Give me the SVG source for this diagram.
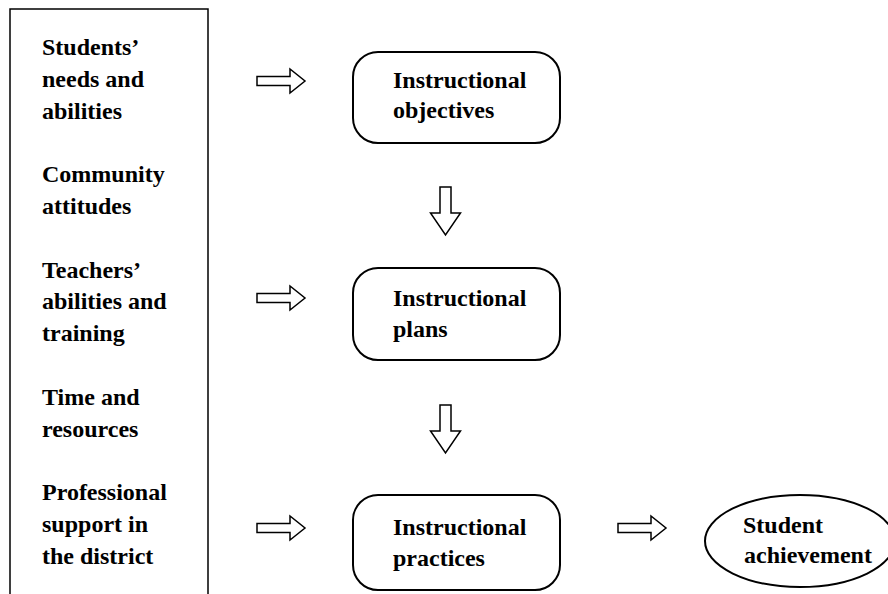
<svg xmlns="http://www.w3.org/2000/svg" xmlns:xlink="http://www.w3.org/1999/xlink" width="888" height="594" viewBox="0 0 888 594">
  <style>
    .t { font-family: "Liberation Serif", "Times New Roman", serif; font-weight: bold; font-size: 24px; fill: #000; }
    .box { fill: #fff; stroke: #000; stroke-width: 2; }
    .arr { fill: #fff; stroke: #000; stroke-width: 1.5; stroke-linejoin: miter; }
    .frame { fill: none; stroke: #000; stroke-width: 1.5; }
  </style>
  <defs>
    <path id="ra" d="M0,-4.5 H33 V-12 L48,0 L33,12 V4.5 H0 Z"/>
    <path id="da" d="M-5.5,0 V26 H-15 L0,48 L15,26 H5.5 V0 Z"/>
  </defs>
  <rect width="888" height="594" fill="#fff"/>

  <g id="factors">
    <path class="frame" d="M10,594 V9 H208 V594"/>
    <g id="f-students">
      <text class="t" x="42" y="55">Students’</text>
      <text class="t" x="42" y="86.8">needs and</text>
      <text class="t" x="42" y="118.6">abilities</text>
    </g>
    <g id="f-community">
      <text class="t" x="42" y="182.2">Community</text>
      <text class="t" x="42" y="214">attitudes</text>
    </g>
    <g id="f-teachers">
      <text class="t" x="42" y="277.6">Teachers’</text>
      <text class="t" x="42" y="309.4">abilities and</text>
      <text class="t" x="42" y="341.2">training</text>
    </g>
    <g id="f-time">
      <text class="t" x="42" y="404.8">Time and</text>
      <text class="t" x="42" y="436.6">resources</text>
    </g>
    <g id="f-support">
      <text class="t" x="42" y="500.2">Professional</text>
      <text class="t" x="42" y="532">support in</text>
      <text class="t" x="42" y="563.8">the district</text>
    </g>
  </g>

  <g id="objectives">
    <rect class="box" x="353" y="52" width="207" height="91" rx="25" ry="25"/>
    <text class="t" x="393" y="88">Instructional</text>
    <text class="t" x="393" y="118">objectives</text>
  </g>

  <g id="plans">
    <rect class="box" x="353" y="268" width="207" height="92" rx="25" ry="25"/>
    <text class="t" x="393" y="306">Instructional</text>
    <text class="t" x="393" y="337">plans</text>
  </g>

  <g id="practices">
    <rect class="box" x="353" y="495" width="207" height="95" rx="25" ry="25"/>
    <text class="t" x="393" y="535">Instructional</text>
    <text class="t" x="393" y="566">practices</text>
  </g>

  <g id="achievement">
    <ellipse class="box" cx="800" cy="541" rx="95" ry="46" stroke-width="1.5"/>
    <text class="t" x="743" y="533">Student</text>
    <text class="t" x="744" y="563">achievement</text>
  </g>

  <g id="connectors">
    <use xlink:href="#ra" class="arr" x="257" y="81"/>
    <use xlink:href="#ra" class="arr" x="257" y="298"/>
    <use xlink:href="#ra" class="arr" x="257" y="528"/>
    <use xlink:href="#ra" class="arr" x="618" y="528"/>
    <use xlink:href="#da" class="arr" x="445.5" y="187"/>
    <use xlink:href="#da" class="arr" x="445.5" y="405"/>
  </g>
</svg>
